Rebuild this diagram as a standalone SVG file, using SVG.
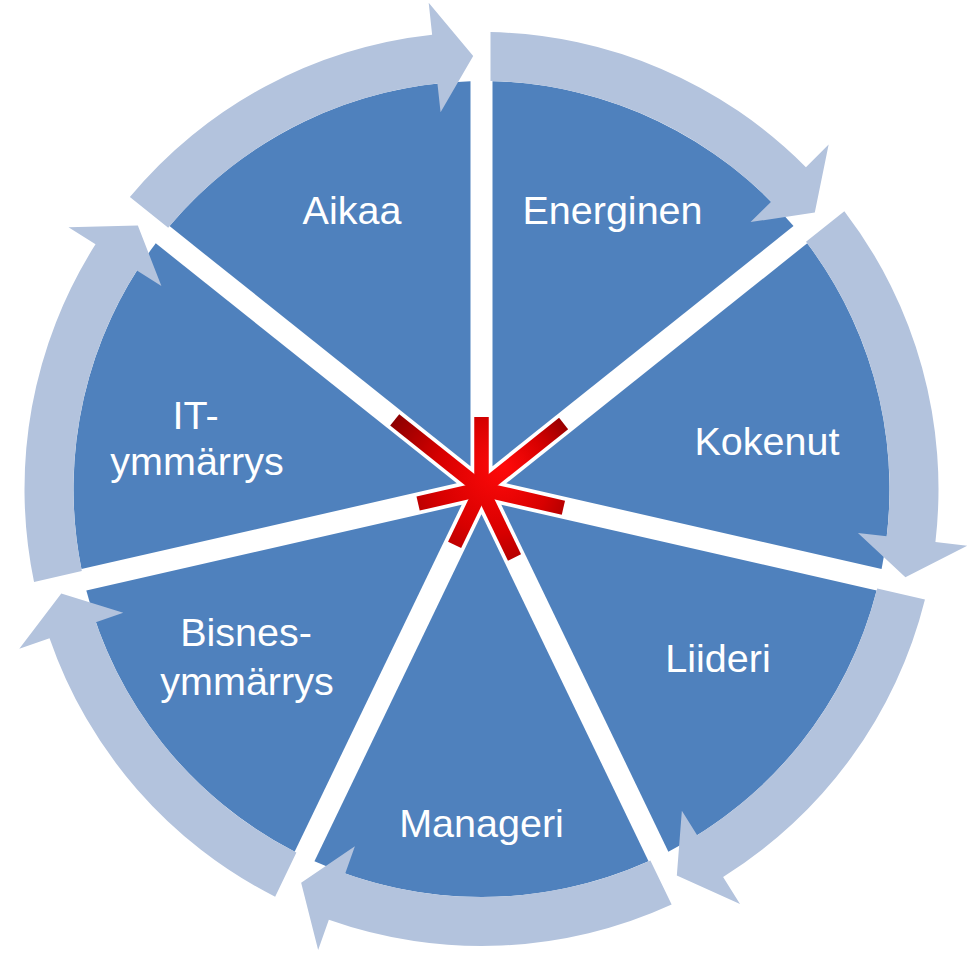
<svg xmlns="http://www.w3.org/2000/svg" xmlns:xlink="http://www.w3.org/1999/xlink" width="975" height="953" viewBox="0 0 975 953">
<style>
.seg{fill:#4f81bd}
.arr{fill:#b3c3dd}
.lbl{font-family:"Liberation Sans",Arial,sans-serif;font-size:39.5px;fill:#ffffff;text-anchor:middle}
.arm{stroke:url(#starGrad);stroke-width:14.5;stroke-linecap:butt;fill:none}
</style>
<defs>
<path id="wedge" d="M 11,-22.84 L 11,-407.85 A 408 408 0 0 1 312.01,-262.89 Z"/>
<path id="arrow" d="M 9,-456.91 A 457 457 0 0 1 324.43,-321.86 L 347.15,-344.39 L 333.29,-276.42 L 269.06,-266.92 L 289.65,-287.35 A 408 408 0 0 0 9,-407.90 Z"/>
<radialGradient id="starGrad" gradientUnits="userSpaceOnUse" cx="481.5" cy="489" r="112" fx="505" fy="465">
<stop offset="0" stop-color="#ff0a0a"/>
<stop offset="0.5" stop-color="#d80000"/>
<stop offset="1" stop-color="#8c0000"/>
</radialGradient>
</defs>
<rect width="975" height="953" fill="#ffffff"/>
<g id="node-energinen">
<use xlink:href="#wedge" href="#wedge" class="seg" transform="translate(481.5 489) rotate(0)"/>
<text class="lbl" x="612.5" y="224">Energinen</text>
</g>
<g id="node-kokenut">
<use xlink:href="#wedge" href="#wedge" class="seg" transform="translate(481.5 489) rotate(51.428571)"/>
<text class="lbl" x="767" y="455">Kokenut</text>
</g>
<g id="node-liideri">
<use xlink:href="#wedge" href="#wedge" class="seg" transform="translate(481.5 489) rotate(102.857143)"/>
<text class="lbl" x="718" y="672">Liideri</text>
</g>
<g id="node-manageri">
<use xlink:href="#wedge" href="#wedge" class="seg" transform="translate(481.5 489) rotate(154.285714)"/>
<text class="lbl" x="481.5" y="837">Manageri</text>
</g>
<g id="node-bisnes">
<use xlink:href="#wedge" href="#wedge" class="seg" transform="translate(481.5 489) rotate(205.714286)"/>
<text class="lbl" x="246" y="646">Bisnes-</text>
<text class="lbl" x="247" y="695">ymmärrys</text>
</g>
<g id="node-it">
<use xlink:href="#wedge" href="#wedge" class="seg" transform="translate(481.5 489) rotate(257.142857)"/>
<text class="lbl" x="195.5" y="429">IT-</text>
<text class="lbl" x="197" y="475">ymmärrys</text>
</g>
<g id="node-aikaa">
<use xlink:href="#wedge" href="#wedge" class="seg" transform="translate(481.5 489) rotate(308.571429)"/>
<text class="lbl" x="352" y="224">Aikaa</text>
</g>
<g id="connectors">
<use xlink:href="#arrow" href="#arrow" class="arr" transform="translate(481.5 489) rotate(0)"/>
<use xlink:href="#arrow" href="#arrow" class="arr" transform="translate(481.5 489) rotate(51.428571)"/>
<use xlink:href="#arrow" href="#arrow" class="arr" transform="translate(481.5 489) rotate(102.857143)"/>
<use xlink:href="#arrow" href="#arrow" class="arr" transform="translate(481.5 489) rotate(154.285714)"/>
<use xlink:href="#arrow" href="#arrow" class="arr" transform="translate(481.5 489) rotate(205.714286)"/>
<use xlink:href="#arrow" href="#arrow" class="arr" transform="translate(481.5 489) rotate(257.142857)"/>
<use xlink:href="#arrow" href="#arrow" class="arr" transform="translate(481.5 489) rotate(308.571429)"/>
</g>
<g id="star">
<line class="arm" x1="481.5" y1="489" x2="481.5" y2="417"/>
<line class="arm" x1="481.5" y1="489" x2="563.6" y2="423.5"/>
<line class="arm" x1="481.5" y1="489" x2="563.4" y2="507.7"/>
<line class="arm" x1="481.5" y1="489" x2="514.5" y2="557.5"/>
<line class="arm" x1="481.5" y1="489" x2="454.6" y2="544.9"/>
<line class="arm" x1="481.5" y1="489" x2="418.1" y2="503.5"/>
<line class="arm" x1="481.5" y1="489" x2="394.7" y2="419.8"/>
</g>
</svg>
